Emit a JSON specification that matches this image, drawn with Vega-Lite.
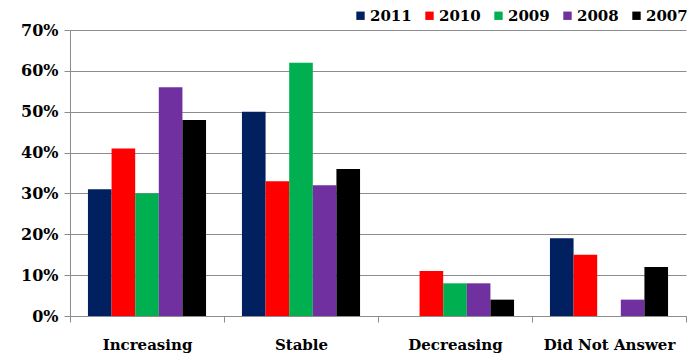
{
  "$schema": "https://vega.github.io/schema/vega-lite/v6.json",
  "width": 616,
  "height": 286,
  "autosize": {"type": "none"},
  "padding": {"left": 70, "top": 30, "right": 8, "bottom": 38},
  "background": "white",
  "data": {
    "values": [
      {"category": "Increasing", "year": "2011", "value": 0.31},
      {"category": "Increasing", "year": "2010", "value": 0.41},
      {"category": "Increasing", "year": "2009", "value": 0.30},
      {"category": "Increasing", "year": "2008", "value": 0.56},
      {"category": "Increasing", "year": "2007", "value": 0.48},
      {"category": "Stable", "year": "2011", "value": 0.50},
      {"category": "Stable", "year": "2010", "value": 0.33},
      {"category": "Stable", "year": "2009", "value": 0.62},
      {"category": "Stable", "year": "2008", "value": 0.32},
      {"category": "Stable", "year": "2007", "value": 0.36},
      {"category": "Decreasing", "year": "2011", "value": 0.0},
      {"category": "Decreasing", "year": "2010", "value": 0.11},
      {"category": "Decreasing", "year": "2009", "value": 0.08},
      {"category": "Decreasing", "year": "2008", "value": 0.08},
      {"category": "Decreasing", "year": "2007", "value": 0.04},
      {"category": "Did Not Answer", "year": "2011", "value": 0.19},
      {"category": "Did Not Answer", "year": "2010", "value": 0.15},
      {"category": "Did Not Answer", "year": "2009", "value": 0.0},
      {"category": "Did Not Answer", "year": "2008", "value": 0.04},
      {"category": "Did Not Answer", "year": "2007", "value": 0.12}
    ]
  },
  "mark": {"type": "bar"},
  "encoding": {
    "x": {
      "field": "category",
      "type": "nominal",
      "sort": ["Increasing", "Stable", "Decreasing", "Did Not Answer"],
      "scale": {"paddingInner": 0, "paddingOuter": 0},
      "axis": {
        "title": null,
        "labelAngle": 0,
        "tickBand": "extent",
        "tickSize": 6,
        "tickColor": "#8c8c8c",
        "domainColor": "#8c8c8c",
        "labelFont": "DejaVu Serif",
        "labelFontWeight": "bold",
        "labelFontSize": 15,
        "labelColor": "#000000",
        "labelPadding": 15,
        "grid": false
      }
    },
    "xOffset": {
      "field": "year",
      "type": "nominal",
      "sort": ["2011", "2010", "2009", "2008", "2007"],
      "scale": {"paddingInner": 0, "paddingOuter": 0.76}
    },
    "y": {
      "field": "value",
      "type": "quantitative",
      "scale": {"domain": [0, 0.7], "nice": false},
      "axis": {
        "title": null,
        "format": ".0%",
        "values": [0, 0.1, 0.2, 0.3, 0.4, 0.5, 0.6, 0.7],
        "tickSize": 6,
        "tickColor": "#8c8c8c",
        "domainColor": "#8c8c8c",
        "gridColor": "#8c8c8c",
        "labelFont": "DejaVu Serif",
        "labelFontWeight": "bold",
        "labelFontSize": 16,
        "labelColor": "#000000",
        "labelPadding": 6
      }
    },
    "color": {
      "field": "year",
      "type": "nominal",
      "scale": {
        "domain": ["2011", "2010", "2009", "2008", "2007"],
        "range": ["#002060", "#FF0000", "#00B050", "#7030A0", "#000000"]
      },
      "legend": {
        "title": null,
        "orient": "none",
        "direction": "horizontal",
        "legendX": 283,
        "legendY": -22,
        "symbolType": "square",
        "symbolSize": 70,
        "symbolStrokeWidth": 0,
        "symbolOpacity": 1,
        "labelFont": "DejaVu Serif",
        "labelFontWeight": "bold",
        "labelFontSize": 15,
        "labelColor": "#000000",
        "labelOffset": 2,
        "columnPadding": 10,
        "symbolOffset": 0
      }
    }
  },
  "config": {"view": {"stroke": null}}
}
